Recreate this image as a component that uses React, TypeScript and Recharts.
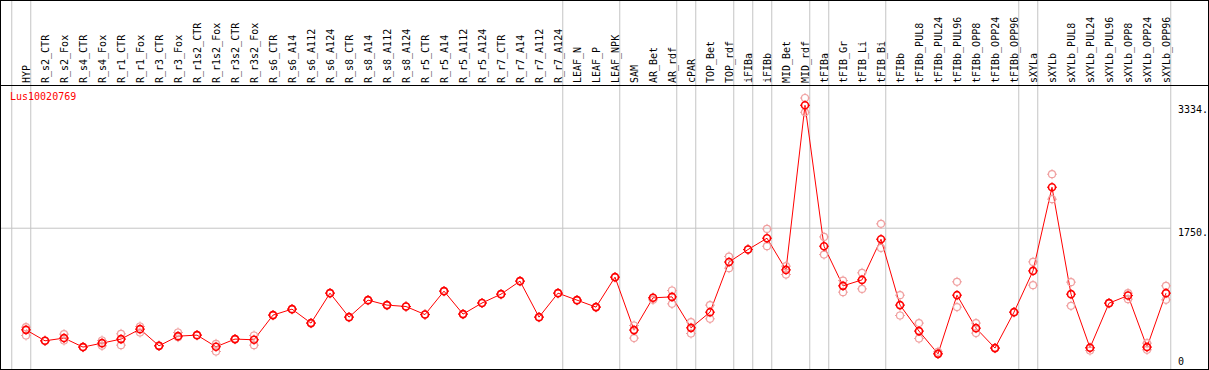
import { ComposedChart, Line, XAxis, YAxis, ReferenceLine } from "recharts";

const names = [
  "HYP", "R_s2_CTR", "R_s2_Fox", "R_s4_CTR", "R_s4_Fox", "R_r1_CTR", "R_r1_Fox", "R_r3_CTR", "R_r3_Fox",
  "R_r1s2_CTR", "R_r1s2_Fox", "R_r3s2_CTR", "R_r3s2_Fox", "R_s6_CTR", "R_s6_A14", "R_s6_A112", "R_s6_A124",
  "R_s8_CTR", "R_s8_A14", "R_s8_A112", "R_s8_A124", "R_r5_CTR", "R_r5_A14", "R_r5_A112", "R_r5_A124",
  "R_r7_CTR", "R_r7_A14", "R_r7_A112", "R_r7_A124", "LEAF_N", "LEAF_P", "LEAF_NPK", "SAM", "AR_Bet", "AR_rdf",
  "cPAR", "TOP_Bet", "TOP_rdf", "iFIBa", "iFIBb", "MID_Bet", "MID_rdf", "tFIBa", "tFIB_Gr", "tFIB_Li", "tFIB_Bi",
  "tFIBb", "tFIBb_PUL8", "tFIBb_PUL24", "tFIBb_PUL96", "tFIBb_OPP8", "tFIBb_OPP24", "tFIBb_OPP96",
  "sXYLa", "sXYLb", "sXYLb_PUL8", "sXYLb_PUL24", "sXYLb_PUL96", "sXYLb_OPP8", "sXYLb_OPP24", "sXYLb_OPP96",
];

const means = [
  440, 299, 334, 218, 269, 321, 449, 234, 359, 372, 222, 321, 312, 630, 707, 527, 913, 604, 823, 759, 741,
  637, 939, 643, 786, 900, 1068, 604, 913, 823, 733, 1119, 437, 853, 865, 466, 668, 1314, 1475, 1621, 1213,
  3334, 1518, 1007, 1084, 1608, 759, 424, 131, 887, 462, 205, 668, 1200, 2278, 900, 209, 784, 882, 218, 913,
];

const repHigh = [
  475, 299, 385, 218, 303, 389, 483, 234, 406, 372, 260, 321, 367, 630, 707, 527, 913, 604, 823, 759, 741,
  637, 939, 643, 786, 900, 1068, 604, 913, 823, 733, 1119, 496, 853, 947, 539, 759, 1385, 1475, 1741, 1261,
  3428, 1638, 1075, 1175, 1806, 887, 527, 157, 1059, 527, 205, 668, 1316, 2446, 1055, 209, 784, 913, 269, 1007,
];

const repLow = [
  367, 299, 303, 218, 234, 243, 406, 234, 346, 372, 161, 321, 243, 630, 707, 527, 913, 604, 823, 759, 741,
  637, 939, 643, 786, 900, 1068, 604, 913, 823, 733, 1119, 334, 827, 775, 393, 582, 1235, 1475, 1518, 1153,
  3244, 1410, 926, 968, 1496, 625, 328, 131, 733, 398, 205, 668, 1016, 2124, 750, 174, 784, 836, 183, 827,
];

// last sample of each tissue group
const groupEnds = [
  "HYP", "R_r7_A124", "LEAF_NPK", "AR_rdf", "cPAR", "TOP_rdf", "iFIBa", "iFIBb", "MID_rdf", "tFIBa",
  "tFIB_Bi", "tFIBb_OPP96", "sXYLa", "sXYLb_OPP96",
];

const yTicks = [0, 1750, 3334];

const data = names.map((name, i) => ({
  idx: i,
  name,
  mean: means[i],
  repHigh: repHigh[i],
  repLow: repLow[i],
}));

const yMax = Math.max(...repHigh, ...means);
const separators = [-1, ...groupEnds.map((g) => names.indexOf(g))].map((i) => i + 0.25);

const FONT = "'DejaVu Sans Mono', monospace";

function Marker({ cx, cy, color, width }: any) {
  if (cx == null || cy == null) return null;
  const r = 3.5;
  return (
    <g stroke={color} strokeWidth={width} fill="none">
      <circle cx={cx} cy={cy} r={r} />
      <line x1={cx} y1={cy - r} x2={cx} y2={cy - r - 1.5} strokeWidth={1} />
      <line x1={cx} y1={cy + r} x2={cx} y2={cy + r + 1.5} strokeWidth={1} />
      <line x1={cx - r} y1={cy} x2={cx - r - 1.5} y2={cy} strokeWidth={1} />
      <line x1={cx + r} y1={cy} x2={cx + r + 1.5} y2={cy} strokeWidth={1} />
    </g>
  );
}

function CatTick(props: any) {
  const { x, payload } = props;
  return (
    <text
      transform={`translate(${x},83) rotate(-90)`}
      dy="0.35em"
      textAnchor="start"
      fontFamily={FONT}
      fontSize={10}
      fill="#000"
    >
      {names[payload.value]}
    </text>
  );
}

function ValTick(props: any) {
  const { x, y, payload } = props;
  const v = payload.value;
  return (
    <text x={x} y={v === 0 ? y + 1 : y + 8} textAnchor="start" fontFamily={FONT} fontSize={10} fill="#000">
      {v === 0 ? "0" : `${v}.`}
    </text>
  );
}

export default function App() {
  return (
    <div style={{ position: "absolute", left: 0, top: 0, width: 1209, height: 370, background: "#fff" }}>
      <ComposedChart width={1209} height={370} data={data} margin={{ top: 0, right: 0, bottom: 1, left: 1 }}>
        <XAxis
          dataKey="idx"
          type="number"
          orientation="top"
          height={86}
          domain={[0, names.length - 1]}
          ticks={names.map((_, i) => i)}
          interval={0}
          padding={{ left: 25, right: 5 }}
          axisLine={false}
          tickLine={false}
          tick={<CatTick />}
        />
        <YAxis
          orientation="right"
          width={38}
          domain={[0, yMax]}
          ticks={yTicks}
          interval={0}
          padding={{ top: 12, bottom: 5 }}
          axisLine={false}
          tickLine={false}
          tickSize={0}
          tickMargin={7}
          tick={<ValTick />}
        />
        <ReferenceLine y={1750} stroke="#c4c4c4" strokeWidth={1} />
        {separators.map((s) => (
          <ReferenceLine
            key={s}
            x={s}
            ifOverflow="visible"
            stroke="#c4c4c4"
            shape={(p: any) => <line x1={p.x1} x2={p.x2} y1={0} y2={p.y2} stroke="#c4c4c4" strokeWidth={1} />}
          />
        ))}
        <Line
          dataKey="repHigh"
          stroke="none"
          isAnimationActive={false}
          activeDot={false}
          dot={(p: any) => <Marker key={`h${p.index}`} cx={p.cx} cy={p.cy} color="#f0a0a0" width={1.2} />}
        />
        <Line
          dataKey="repLow"
          stroke="none"
          isAnimationActive={false}
          activeDot={false}
          dot={(p: any) => <Marker key={`l${p.index}`} cx={p.cx} cy={p.cy} color="#f0a0a0" width={1.2} />}
        />
        <Line
          dataKey="mean"
          stroke="#ff0000"
          strokeWidth={1}
          isAnimationActive={false}
          activeDot={false}
          dot={(p: any) => <Marker key={`m${p.index}`} cx={p.cx} cy={p.cy} color="#ff0000" width={1.6} />}
        />
      </ComposedChart>
      <div style={{ position: "absolute", left: 0, top: 85, width: 1209, height: 1, background: "#000" }} />
      <div
        style={{
          position: "absolute",
          left: 0,
          top: 0,
          width: 1209,
          height: 370,
          boxSizing: "border-box",
          border: "1px solid #000",
          pointerEvents: "none",
        }}
      />
      <div
        style={{
          position: "absolute",
          left: 10,
          top: 91,
          fontFamily: FONT,
          fontSize: 10,
          color: "#ff0000",
          lineHeight: "12px",
        }}
      >
        Lus10020769
      </div>
    </div>
  );
}
